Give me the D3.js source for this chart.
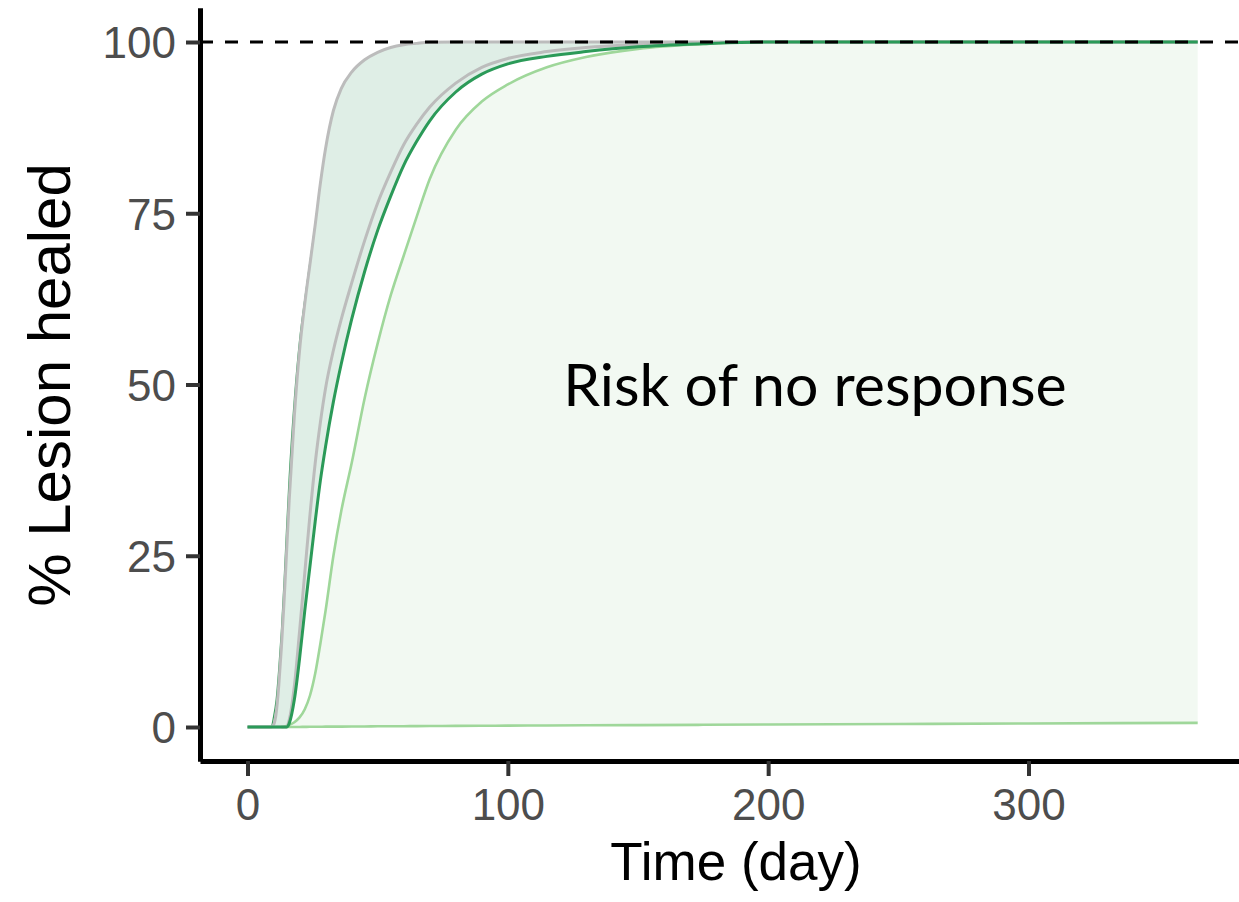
<!DOCTYPE html>
<html>
<head>
<meta charset="utf-8">
<script src="https://cdn.jsdelivr.net/npm/d3@7"></script>
<style>
  html, body { margin: 0; padding: 0; background: #fff; overflow: hidden; }
  svg { display: block; }
</style>
</head>
<body>
<svg id="chart" width="1239" height="902"></svg>
<script>
// Time grid (days) shared by every series
const days = [0, 5, 9, 10, 11, 12, 13, 14, 15, 16, 18, 20, 22, 24, 26, 28, 30, 33, 36, 40,
  45, 50, 55, 60, 65, 70, 80, 90, 100, 115, 130, 150, 175, 200, 250, 300, 365];

// Upper bound of the predicted healing band (%)
const bandUpper = [0, 0, 0, 1.5, 4, 8.5, 14, 21, 29, 36.5, 48, 56.5, 62.5, 68, 73.5, 79.5, 84.5, 90, 93.2, 95.6,
  97.4, 98.5, 99.2, 99.6, 99.8, 99.95, 100, 100, 100, 100, 100, 100, 100, 100, 100, 100, 100];

// Observed healing, fast and slow responders (%)
const observedFast = [0, 0, 0, 0.3, 2, 6, 11.5, 18, 25.5, 33, 45.5, 55, 61.8, 67.6, 73.3, 79.4, 84.5, 90, 93.2, 95.6,
  97.4, 98.5, 99.2, 99.6, 99.8, 99.95, 100, 100, 100, 100, 100, 100, 100, 100, 100, 100, 100];
const observedSlow = [0, 0, 0, 0, 0, 0, 0, 0, 0, 1, 6, 14, 22.5, 31, 38.5, 44.5, 49.5, 55, 59.5, 64.8,
  71, 76.5, 81, 85, 88, 90.5, 94, 96.3, 97.6, 98.6, 99.2, 99.6, 99.85, 100, 100, 100, 100];

// Median predicted healing (%)
const medianHealed = [0, 0, 0, 0, 0, 0, 0, 0, 0, 0.5, 4, 10, 17, 23.5, 30, 36, 41, 47.5, 53, 59.5,
  66.5, 72.5, 77.5, 82, 85.5, 88.5, 92.7, 95.3, 96.8, 97.9, 98.6, 99.3, 99.75, 100, 100, 100, 100];

// Band including the risk of no response (%)
const noResponseHi = [null, null, null, null, null, null, 0, 0.05, 0.15, 0.3, 0.7, 1.4, 2.6, 4.6, 7.8, 12.2, 17, 25, 31.5, 38.5,
  48, 56, 63, 68.8, 74.5, 80, 87.2, 91.3, 93.8, 96.3, 97.8, 99, 99.7, 100, 100, 100, 100];
const noResponseLo = [null, null, null, null, null, null, 0, 0, 0, 0, 0, 0.01, 0.02, 0.03, 0.03, 0.04, 0.05, 0.05, 0.06, 0.07,
  0.08, 0.1, 0.11, 0.12, 0.13, 0.14, 0.16, 0.18, 0.2, 0.22, 0.25, 0.28, 0.32, 0.36, 0.44, 0.52, 0.6];

const xTicks = [0, 100, 200, 300];
const yTicks = [0, 25, 50, 75, 100];

const svg = d3.select("#chart");

const x = d3.scaleLinear().domain([-18.25, 383.25]).range([200, 1245.2]);
const y = d3.scaleLinear().domain([-5, 105]).range([761.25, 7.75]);

const rows = days.map((d, i) => ({
  day: d,
  up: bandUpper[i], fast: observedFast[i], slow: observedSlow[i], med: medianHealed[i],
  nrHi: noResponseHi[i], nrLo: noResponseLo[i]
}));

const curve = d3.curveMonotoneX;
const nr = rows.filter(r => r.nrHi !== null);

// Risk-of-no-response band
svg.append("path")
  .datum(nr)
  .attr("fill", "#f2f9f2")
  .attr("d", d3.area().curve(curve).x(r => x(r.day)).y0(r => y(r.nrLo)).y1(r => y(r.nrHi)));

// Predicted healing band
svg.append("path")
  .datum(rows)
  .attr("fill", "#dfeee6")
  .attr("d", d3.area().curve(curve).x(r => x(r.day)).y0(r => y(r.med)).y1(r => y(r.up)));

const line = key => d3.line().curve(curve).x(r => x(r.day)).y(r => y(r[key]));

svg.append("path").datum(nr).attr("fill", "none").attr("stroke", "#9fd79a").attr("stroke-width", 2.6).attr("d", line("nrLo"));
svg.append("path").datum(nr).attr("fill", "none").attr("stroke", "#9fd79a").attr("stroke-width", 2.6).attr("d", line("nrHi"));

svg.append("path").datum(rows).attr("fill", "none").attr("stroke", "#3a9d5d").attr("stroke-width", 1.2).attr("d", line("up"));
svg.append("path").datum(rows).attr("fill", "none").attr("stroke", "#bcbcbc").attr("stroke-width", 3).attr("d", line("fast"));
svg.append("path").datum(rows).attr("fill", "none").attr("stroke", "#bcbcbc").attr("stroke-width", 3).attr("d", line("slow"));
svg.append("path").datum(rows).attr("fill", "none").attr("stroke", "#2b9a58").attr("stroke-width", 3).attr("d", line("med"));

// Full healing reference line
svg.append("line")
  .attr("x1", 200).attr("x2", 1245)
  .attr("y1", y(100)).attr("y2", y(100))
  .attr("stroke", "#000").attr("stroke-width", 3)
  .attr("stroke-dasharray", "13,12");

// Annotation
svg.append("text")
  .attr("x", 815).attr("y", 406)
  .attr("text-anchor", "middle")
  .attr("font-family", "Lato, 'Open Sans', sans-serif")
  .attr("font-size", 59)
  .attr("fill", "#000")
  .text("Risk of no response");

// Axes
const yAxis = svg.append("g")
  .attr("transform", "translate(200,0)")
  .call(d3.axisLeft(y).tickValues(yTicks).tickSize(14).tickSizeOuter(0).tickPadding(10));
const xAxis = svg.append("g")
  .attr("transform", "translate(0,761)")
  .call(d3.axisBottom(x).tickValues(xTicks).tickSize(15).tickSizeOuter(0).tickPadding(13));

[yAxis, xAxis].forEach(g => {
  g.select(".domain").attr("stroke", "#000").attr("stroke-width", 5);
  g.selectAll(".tick line").attr("stroke", "#333").attr("stroke-width", 4);
  g.selectAll(".tick text")
    .attr("font-family", "'Liberation Sans', Arial, sans-serif")
    .attr("font-size", 44)
    .attr("fill", "#4d4d4d");
});
yAxis.selectAll(".tick text").attr("dy", "0.36em");

// Axis titles
svg.append("text")
  .attr("x", 736).attr("y", 880)
  .attr("text-anchor", "middle")
  .attr("font-family", "'Liberation Sans', Arial, sans-serif")
  .attr("font-size", 53)
  .attr("fill", "#000")
  .text("Time (day)");

svg.append("text")
  .attr("transform", "translate(70,385) rotate(-90)")
  .attr("text-anchor", "middle")
  .attr("font-family", "'Liberation Sans', Arial, sans-serif")
  .attr("font-size", 60)
  .attr("fill", "#000")
  .text("% Lesion healed");
</script>
</body>
</html>
